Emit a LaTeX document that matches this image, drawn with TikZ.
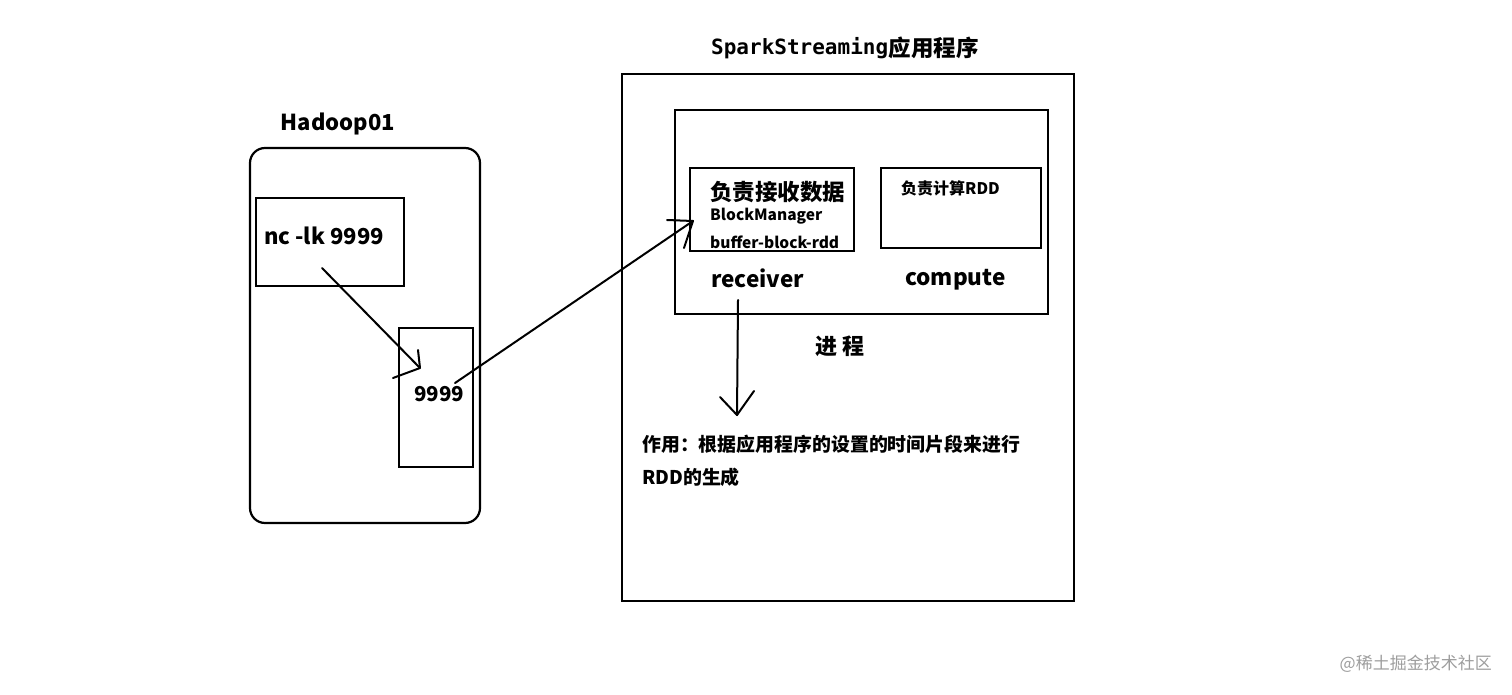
\documentclass[tikz,border=0pt]{standalone}
\usepackage{fontspec}
\setmainfont{Noto Sans CJK SC}
\newfontfamily\monof{DejaVu Sans Mono}
\tikzset{
  box/.style={draw, line width=2.2pt, inner sep=0pt, outer sep=0pt, anchor=north west},
  lbl/.style={inner sep=0pt, font=\bfseries},
  conn/.style={line width=2pt, line cap=round, line join=round},
}
\newcommand{\fs}[1]{\fontsize{#1}{#1}\selectfont}
\begin{document}
\begin{tikzpicture}[x=1pt,y=-1pt]
\useasboundingbox[fill=white] (0,0) rectangle (1512,695);
% Hadoop side
\node[box, rounded corners=15pt, minimum width=230pt, minimum height=375pt] (hadoop) at (250,148) {};
\node[lbl, font=\bfseries\fs{22}] (hlabel) at (338,124) {Hadoop01};
\node[box, minimum width=148pt, minimum height=88pt] (nc) at (256,198) {};
\node[lbl, anchor=west, font=\bfseries\fs{22}] (nctext) at (264,236) {nc -lk 9999};
\node[box, minimum width=74pt, minimum height=139pt] (port) at (399,328) {};
\node[lbl, anchor=west, font=\bfseries\fs{20.5}] (porttext) at (414,394) {9999};
% Spark side
\node[box, minimum width=452pt, minimum height=527pt] (spark) at (622,74) {};
\node[lbl, anchor=west, font=\monof\bfseries\fs{21}] (stitle) at (711,48) {SparkStreaming};
\node[lbl, anchor=west, font=\bfseries\fs{22.5}] (stitle2) at (stitle.east) {应用程序};
\node[box, minimum width=373pt, minimum height=204pt] (proc) at (675,110) {};
\node[box, minimum width=164pt, minimum height=83pt] (recv) at (690,168) {};
\node[box, minimum width=160pt, minimum height=80pt] (comp) at (881,168) {};
\node[lbl, anchor=west, font=\bfseries\fs{22.5}] (r1) at (710,192) {负责接收数据};
\node[lbl, anchor=west, font=\bfseries\fs{15.5}] (r2) at (710,216) {BlockManager};
\node[lbl, anchor=west, font=\bfseries\fs{15.5}] (r3) at (710,242) {buffer-block-rdd};
\node[lbl, anchor=west, font=\bfseries\fs{16}] (c1) at (901,188) {负责计算RDD};
\node[lbl, anchor=west, font=\bfseries\fs{22.5}] (rl) at (711,278) {receiver};
\node[lbl, anchor=west, font=\bfseries\fs{22.5}] (cl) at (905,280) {compute};
\node[lbl, anchor=west, font=\bfseries\fs{22}] (pl) at (815,346) {进 程};
\node[lbl, anchor=west, font=\bfseries\fs{18.9}] (d1) at (642,444) {作用：根据应用程序的设置的时间片段来进行};
\node[lbl, anchor=west, font=\bfseries\fs{18.9}] (d2) at (642,477) {RDD的生成};
% watermark
\node[inner sep=0pt, anchor=east, text=black!38, font=\fs{17}] (wm) at (1492,664) {@稀土掘金技术社区};
% connectors (hand-drawn arrows)
\coordinate (a1s) at (322,268);
\coordinate (a1t) at (420,368);
\draw[conn] (a1s) -- (a1t);
\draw[conn] (418,350) -- (a1t) -- (393,378);
\coordinate (a2s) at (455,383);
\coordinate (a2t) at (693,221);
\draw[conn] (a2s) -- (a2t);
\draw[conn] (667,220) -- (a2t) -- (684,248);
\coordinate (a3s) at (738,300);
\coordinate (a3t) at (737,415);
\draw[conn] (a3s) -- (a3t);
\draw[conn] (720,397) -- (a3t) -- (754,391);
\end{tikzpicture}
\end{document}
